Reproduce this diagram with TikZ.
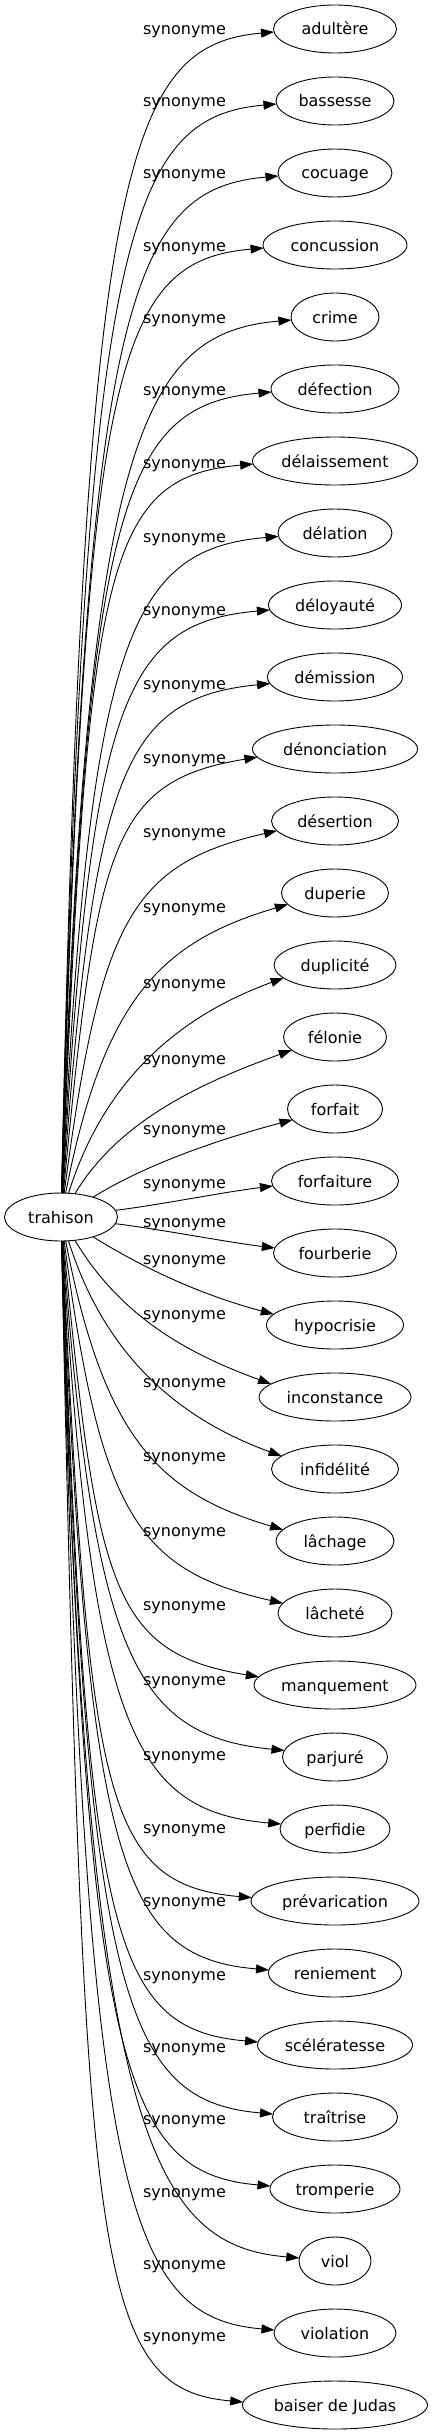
\documentclass[tikz,border=0pt]{standalone}
\usepackage{fontspec}
\setmainfont{DejaVu Sans}
\usetikzlibrary{arrows.meta,shapes.geometric,calc}

\begin{document}
\begin{tikzpicture}[
  x=1pt, y=-1pt,
  font=\fontsize{16}{19}\selectfont,
  term/.style={draw, ellipse, line width=0.9pt, minimum height=48pt, inner sep=0pt,
               text height=12pt, text depth=0pt},
  rel/.style={inner sep=0pt},
  syn/.style={-{Triangle[length=13pt, width=9pt]}, line width=0.9pt}
]
  \useasboundingbox (0,0) rectangle (433,2435);

  \node[term, minimum width=113pt] (trahison) at (61,1217) {trahison};

  % one target, its label and its edge per entry: index/word/ellipse width/label y
  \foreach \i/\word/\ew/\ly in {
      0/adultère/123/32, 1/bassesse/118/104, 2/cocuage/114/176,
      3/concussion/144/249, 4/crime/88/321, 5/défection/128/393,
      6/délaissement/165/466, 7/délation/114/540, 8/déloyauté/133/613,
      9/démission/135/687, 10/dénonciation/165/761, 11/désertion/127/835,
      12/duperie/107/910, 13/duplicité/122/986, 14/félonie/103/1062,
      15/forfait/95/1132, 16/forfaiture/127/1186, 17/fourberie/123/1225,
      18/hypocrisie/137/1262, 19/inconstance/152/1317, 20/infidélité/127/1385,
      21/lâchage/118/1459, 22/lâcheté/114/1534, 23/manquement/162/1608,
      24/parjuré/105/1683, 25/perfidie/110/1758, 26/prévarication/168/1831,
      27/reniement/133/1904, 28/scélératesse/155/1978, 29/traîtrise/125/2050,
      30/tromperie/130/2122, 31/viol/72/2195, 32/violation/122/2267,
      33/baiser de Judas/185/2339}{
    \pgfmathsetmacro\ty{29+72*\i}
    \pgfmathsetmacro\dd{1188-72*\i}
    \pgfmathsetmacro\dabs{abs(\dd)}
    \pgfmathsetmacro\sg{\dd/\dabs}
    \pgfmathsetmacro\qq{(\dabs-36)/110}
    \pgfmathsetmacro\oa{\sg*(89.5-82.5/(1+\qq*\qq))}
    \pgfmathsetmacro\bb{max(5,min(7+0.11*(\dabs-36),20,20-(\dabs-252)/20))}
    \pgfmathsetmacro\ia{180+\sg*\bb}
    \pgfmathsetmacro\lena{max(45+0.3*(\dabs-36),0.9*(\dabs-24)-300/(\dabs/100+1))}
    \pgfmathsetmacro\lenb{min(150,40+0.28*\dabs)}
    \pgfmathsetmacro\off{min(5+0.08*(\dabs-36),13,max(3,13-(\dabs-250)/45))}
    % border points of both ellipses
    \pgfmathsetmacro\rs{56.5*24/sqrt((24*cos(\oa))^2+(56.5*sin(\oa))^2)}
    \pgfmathsetmacro\sx{\rs*cos(\oa)}
    \pgfmathsetmacro\sy{-\rs*sin(\oa)}
    \pgfmathsetmacro\ax{\sx+\lena*cos(\oa)}
    \pgfmathsetmacro\ay{\sy-\lena*sin(\oa)}
    \pgfmathsetmacro\ex{-(\ew/2)*sqrt(1-(\off/24)^2)}
    \pgfmathsetmacro\ey{\sg*\off}
    \pgfmathsetmacro\bx{\ex+\lenb*cos(\ia)}
    \pgfmathsetmacro\by{\ey-\lenb*sin(\ia)}

    \node[term, minimum width=\ew pt] (t\i) at (335,\ty) {\word};
    \node[rel] (l\i) at (184.5,\ly) {synonyme};
    \draw[syn] ($(trahison)+(\sx,\sy)$) .. controls ($(trahison)+(\ax,\ay)$)
      and ($(t\i)+(\bx,\by)$) .. ($(t\i)+(\ex,\ey)$);
  }
\end{tikzpicture}
\end{document}
